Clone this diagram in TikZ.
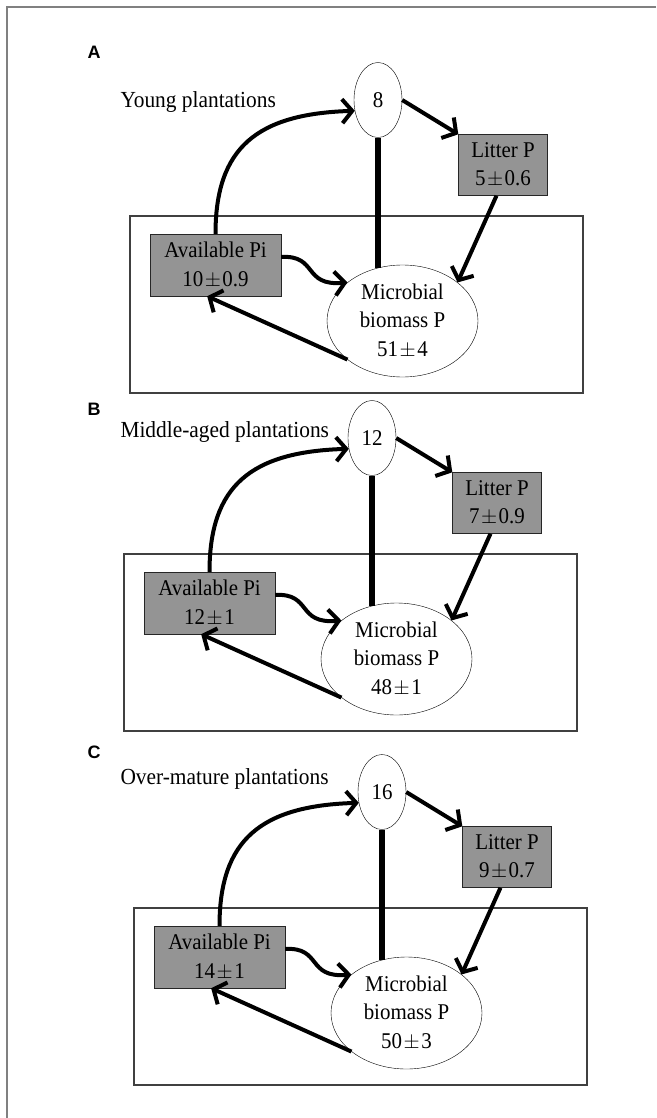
\documentclass[tikz,border=0pt]{standalone}
\usepackage{fontspec}
\setmainfont{Liberation Serif}[FakeStretch=0.93]
\newfontfamily\panelfont{Liberation Sans}
\usetikzlibrary{shapes.geometric,arrows.meta}
\newcommand{\pmsign}{\kern1.5pt$\pm$\kern1.5pt}

\begin{document}
\begin{tikzpicture}[x=1pt,y=1pt]
    \tikzstyle{pool}=[draw=black!85,fill=black!42,inner sep=0pt,align=center,font=\fontsize{22.5}{28.5}\selectfont]
    \tikzstyle{flux}=[draw,ellipse,fill=white,inner sep=0pt,align=center,font=\fontsize{22.5}{28.5}\selectfont]
    \tikzstyle{arr}=[line width=4pt,-{Straight Barb[length=10pt,width=24pt]}]
    \tikzstyle{soil}=[draw=black!75,line width=1.2pt]

    \useasboundingbox (0,0) rectangle (656,-1118);
    \draw[black!50,line width=1.5pt] (656,-7) -- (7,-7) -- (7,-1118);

    \foreach \p/\dx/\dy/\ly/\ty/\stand/\plant/\litter/\avail/\mbp in {
        A/0/0/-52/-108/Young plantations/8/5\pmsign0.6/10\pmsign0.9/51\pmsign4,
        B/-6/-338/-409/-437/Middle-aged plantations/12/7\pmsign0.9/12\pmsign1/48\pmsign1,
        C/4/-692/-752/-784/Over-mature plantations/16/9\pmsign0.7/14\pmsign1/50\pmsign3}
    {
        \node[font=\panelfont\bfseries\fontsize{18}{20}\selectfont] (lab\p) at (94,\ly) {\p};
        \node[anchor=base west,font=\fontsize{23}{27}\selectfont] (title\p) at (117,\ty) {\stand};
        \begin{scope}[shift={(\dx,\dy)}]
            \draw[soil] (130,-216) rectangle (583,-393);
            \node[flux,minimum width=48pt,minimum height=75pt] (plant\p) at (378,-100) {\plant};
            \node[pool,minimum width=89pt,minimum height=61pt] (litter\p) at (503,-165) {Litter P\\\litter};
            \node[pool,minimum width=131pt,minimum height=62pt] (avail\p) at (215.5,-265) {Available Pi\\\avail};
            \node[flux,minimum width=151pt,minimum height=112pt] (mbp\p) at (402.5,-321) {Microbial\\biomass P\\\mbp};

            \draw[line width=6.5pt] (plant\p.south) -- (plant\p.south |- mbp\p.116);
            \draw[arr] (avail\p.north) .. controls +(0,86) and +(-98,-3) .. (plant\p.205);
            \draw[arr] (plant\p.east) -- (litter\p.north west);
            \draw[arr] (litter\p.258) -- (mbp\p.35);
            \draw[arr] (avail\p.7) .. controls +(37,2) and +(-45,-4) .. (mbp\p.145);
            \draw[arr] (mbp\p.215) -- (avail\p.255);
        \end{scope}
    }
\end{tikzpicture}
\end{document}
